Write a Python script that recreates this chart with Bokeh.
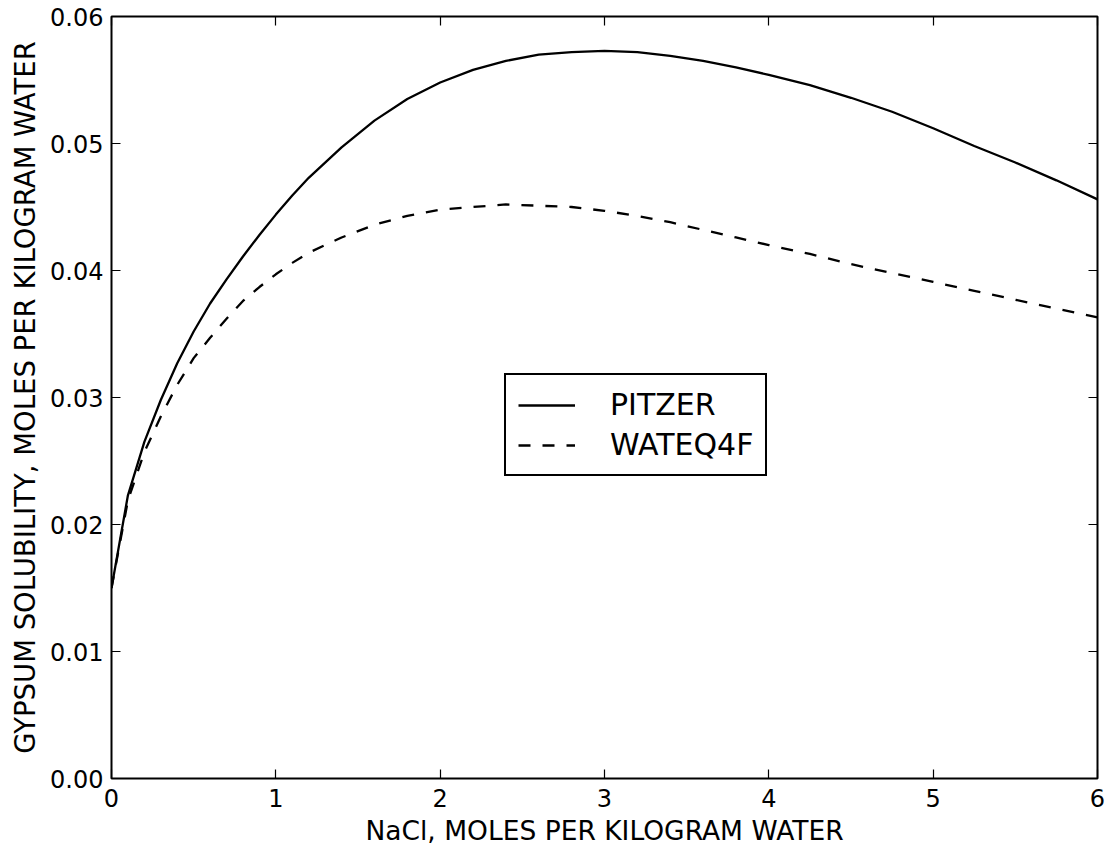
from bokeh.plotting import figure
from bokeh.models import (Range1d, FixedTicker, NumeralTickFormatter, LinearAxis,
                          Legend, LegendItem, ColumnDataSource, CustomJSTickFormatter)
from bokeh.embed import file_html
from bokeh.resources import INLINE

# NaCl molality (mol/kg water)
nacl = [0.0, 0.1, 0.2, 0.3, 0.4, 0.5, 0.6, 0.7, 0.8, 0.9, 1.0, 1.1, 1.2, 1.4, 1.6, 1.8,
        2.0, 2.2, 2.4, 2.6, 2.8, 3.0, 3.2, 3.4, 3.6, 3.8, 4.0, 4.25, 4.5, 4.75,
        5.0, 5.25, 5.5, 5.75, 6.0]
# Gypsum solubility (mol/kg water)
pitzer = [0.0150, 0.0223, 0.0265, 0.0298, 0.0327, 0.0352, 0.0374, 0.0393, 0.0411,
          0.0428, 0.0444, 0.0459, 0.0473, 0.0497, 0.0518, 0.0535, 0.0548, 0.0558,
          0.0565, 0.0570, 0.0572, 0.0573, 0.0572, 0.0569, 0.0565, 0.0560, 0.0554,
          0.0546, 0.0536, 0.0525, 0.0512, 0.0498, 0.0485, 0.0471, 0.0456]
wateq4f = [0.0150, 0.0219, 0.0257, 0.0285, 0.0310, 0.0331, 0.0347, 0.0362, 0.0376,
           0.0387, 0.0397, 0.0406, 0.0414, 0.0426, 0.0436, 0.0443, 0.0448, 0.0450,
           0.0452, 0.0451, 0.0450, 0.0447, 0.0443, 0.0438, 0.0432, 0.0426, 0.0420,
           0.0413, 0.0405, 0.0398, 0.0391, 0.0384, 0.0377, 0.0370, 0.0363]

x_ticks = [0, 1, 2, 3, 4, 5, 6]
y_ticks = [0.00, 0.01, 0.02, 0.03, 0.04, 0.05, 0.06]
series_labels = ["PITZER", "WATEQ4F"]

FONT = "DejaVu Sans"

p = figure(width=1105, height=848, output_backend="svg", toolbar_location=None,
           x_range=Range1d(0, 6), y_range=Range1d(0, 0.06),
           min_border_left=111, min_border_top=16, min_border_right=8,
           min_border_bottom=70)
p.background_fill_color = "white"
p.border_fill_color = "white"
p.outline_line_color = "black"
p.outline_line_width = 2
p.grid.visible = False

src = ColumnDataSource(dict(x=nacl, p=pitzer, w=wateq4f))
r1 = p.line("x", "p", source=src, line_color="black", line_width=2.3)
r2 = p.line("x", "w", source=src, line_color="black", line_width=2.3, line_dash="12 12")

for ax in (p.xaxis[0], p.yaxis[0]):
    ax.major_tick_in = 9
    ax.major_tick_out = 0
    ax.minor_tick_line_color = None
    ax.major_tick_line_color = "black"
    ax.major_tick_line_width = 1.2
    ax.axis_line_color = None
    ax.major_label_text_font = FONT
    ax.major_label_text_font_size = "24px"
    ax.major_label_text_color = "black"
    ax.axis_label_text_font = FONT
    ax.axis_label_text_font_style = "normal"
    ax.axis_label_text_color = "black"

p.xaxis[0].ticker = FixedTicker(ticks=x_ticks)
p.yaxis[0].ticker = FixedTicker(ticks=y_ticks)
p.yaxis[0].formatter = NumeralTickFormatter(format="0.00")
p.xaxis[0].axis_label = "NaCl, MOLES PER KILOGRAM WATER"
p.yaxis[0].axis_label = "GYPSUM SOLUBILITY, MOLES PER KILOGRAM WATER"
p.xaxis[0].axis_label_text_font_size = "26.5px"
p.yaxis[0].axis_label_text_font_size = "27.5px"
p.xaxis[0].major_label_standoff = 10
p.xaxis[0].axis_label_standoff = 5
p.yaxis[0].major_label_standoff = 8
p.yaxis[0].axis_label_standoff = 6

blank = CustomJSTickFormatter(code="return ''")
top = LinearAxis(ticker=FixedTicker(ticks=x_ticks), formatter=blank,
                 major_label_text_color=None, major_label_standoff=0,
                 major_tick_in=9, major_tick_out=0,
                 minor_tick_line_color=None, axis_line_color=None,
                 major_tick_line_width=1.2)
right = LinearAxis(ticker=FixedTicker(ticks=y_ticks), formatter=blank,
                   major_label_text_color=None, major_label_standoff=0,
                   major_tick_in=9, major_tick_out=0,
                   minor_tick_line_color=None, axis_line_color=None,
                   major_tick_line_width=1.2)
p.add_layout(top, "above")
p.add_layout(right, "right")

legend = Legend(items=[LegendItem(label=series_labels[0], renderers=[r1]),
                       LegendItem(label=series_labels[1], renderers=[r2])],
                location=(393, 302))
legend.label_text_font = FONT
legend.label_text_font_size = "30px"
legend.label_text_color = "black"
legend.border_line_color = "black"
legend.border_line_alpha = 1
legend.border_line_width = 2
legend.background_fill_alpha = 1
legend.padding = 12
legend.spacing = 5
legend.glyph_width = 57
legend.glyph_height = 30
legend.label_standoff = 35
legend.margin = 0
p.add_layout(legend, "center")

open("out.html", "w").write(file_html(p, INLINE))
